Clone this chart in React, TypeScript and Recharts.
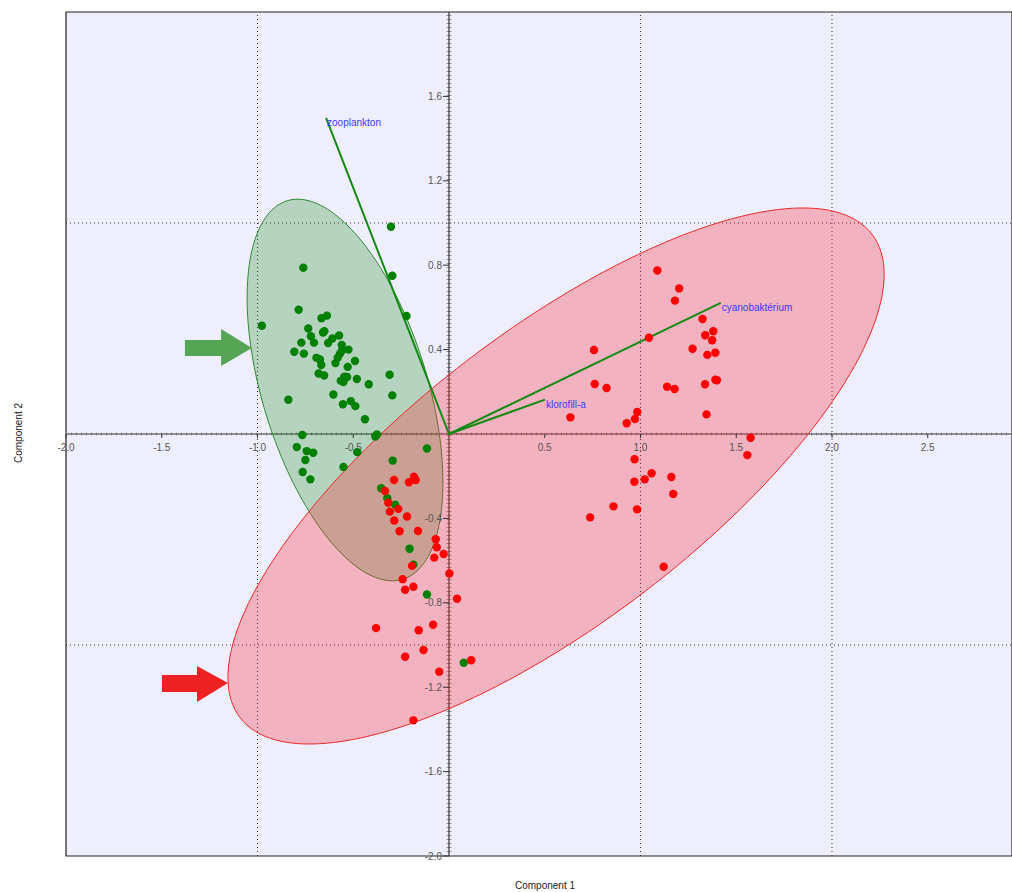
import React from 'react';
import { ScatterChart, Scatter, XAxis, YAxis, ReferenceArea, ReferenceLine, ReferenceDot } from 'recharts';

// ---- data ----
const greenX = [-0.303,-0.296,-0.761,-0.222,-0.977,-0.785,-0.666,-0.637,-0.735,-0.651,-0.658,-0.721,-0.574,-0.609,-0.771,-0.705,-0.631,-0.560,-0.525,-0.559,-0.808,-0.758,-0.569,-0.581,-0.692,-0.674,-0.491,-0.593,-0.667,-0.529,-0.681,-0.652,-0.547,-0.532,-0.565,-0.551,-0.481,-0.310,-0.419,-0.839,-0.604,-0.296,-0.554,-0.513,-0.489,-0.439,-0.376,-0.385,-0.766,-0.795,-0.743,-0.709,-0.750,-0.764,-0.724,-0.551,-0.479,-0.115,-0.294,-0.354,-0.322,-0.281,-0.206,-0.186,-0.115,0.077];
const greenY = [0.982,0.750,0.788,0.559,0.513,0.589,0.549,0.561,0.500,0.487,0.481,0.463,0.467,0.453,0.433,0.433,0.431,0.422,0.400,0.396,0.390,0.381,0.381,0.362,0.361,0.353,0.346,0.336,0.327,0.318,0.287,0.277,0.272,0.270,0.252,0.246,0.261,0.281,0.236,0.162,0.187,0.183,0.141,0.156,0.132,0.070,-0.002,-0.012,-0.005,-0.062,-0.081,-0.089,-0.123,-0.180,-0.215,-0.156,-0.086,-0.069,-0.126,-0.257,-0.304,-0.335,-0.544,-0.619,-0.761,-1.084];

const redX = [-0.287,-0.183,-0.209,-0.174,-0.334,-0.317,-0.309,-0.265,-0.286,-0.219,-0.258,-0.162,-0.069,-0.064,-0.028,-0.077,-0.193,0.002,-0.242,-0.229,-0.186,0.042,-0.381,-0.158,-0.083,-0.229,-0.133,0.116,-0.051,-0.186,
  1.088,1.202,1.180,1.324,1.380,1.338,1.374,1.044,1.272,1.349,1.391,0.757,0.761,0.823,1.139,1.178,1.337,1.391,1.399,1.345,0.634,0.983,0.971,0.928,1.575,1.558,0.969,0.968,1.022,1.058,1.161,1.171,0.859,0.982,0.737,1.121];
const redY = [-0.218,-0.202,-0.229,-0.218,-0.270,-0.326,-0.368,-0.355,-0.410,-0.391,-0.461,-0.460,-0.499,-0.537,-0.569,-0.586,-0.625,-0.661,-0.688,-0.738,-0.724,-0.781,-0.920,-0.930,-0.904,-1.056,-1.024,-1.072,-1.127,-1.357,
  0.775,0.690,0.632,0.545,0.487,0.468,0.444,0.456,0.404,0.375,0.385,0.398,0.237,0.218,0.224,0.213,0.236,0.257,0.255,0.093,0.079,0.104,0.071,0.051,-0.018,-0.100,-0.120,-0.226,-0.215,-0.186,-0.204,-0.284,-0.343,-0.357,-0.395,-0.629];

// loading vectors
const vectorNames = ['zooplankton', 'cyanobaktérium', 'klorofill-a'];
const vectorX = [-0.642, 1.419, 0.501];
const vectorY = [1.498, 0.621, 0.163];

// confidence ellipses: center, first and second semi-axis vectors (data units)
const greenEllipse = { cx: -0.543, cy: 0.2085, ax: [0.302, -0.897], bx: [-0.4125, -0.1145] };
const redEllipse = { cx: 0.559, cy: -0.199, ax: [1.650, 1.1455], bx: [0.462, -0.549] };

// annotation arrows (outline vertices, data units)
const greenArrowX = [-1.379, -1.190, -1.190, -1.029, -1.190, -1.190, -1.379];
const greenArrowY = [0.446, 0.446, 0.498, 0.408, 0.322, 0.370, 0.370];
const redArrowX = [-1.499, -1.316, -1.316, -1.154, -1.316, -1.316, -1.499];
const redArrowY = [-1.142, -1.142, -1.100, -1.180, -1.270, -1.223, -1.223];

const xTicks = [-2.0, -1.5, -1.0, -0.5, 0.5, 1.0, 1.5, 2.0, 2.5];
const yTicks = [1.6, 1.2, 0.8, 0.4, -0.4, -0.8, -1.2, -1.6, -2.0];
const xGrid = [-1, 1, 2];
const yGrid = [1, -1];

const FONT = 'Liberation Sans, Arial, Helvetica, sans-serif';

const zipPts = (xs: number[], ys: number[]) => xs.map((x, i) => ({ x, y: ys[i] }));

function ellipsePts(e: { cx: number; cy: number; ax: number[]; bx: number[] }) {
  const pts: { x: number; y: number }[] = [];
  const n = 180;
  for (let i = 0; i <= n; i++) {
    const t = (i / n) * Math.PI * 2;
    pts.push({
      x: e.cx + Math.cos(t) * e.ax[0] + Math.sin(t) * e.bx[0],
      y: e.cy + Math.cos(t) * e.ax[1] + Math.sin(t) * e.bx[1],
    });
  }
  return pts;
}

const greenPts = zipPts(greenX, greenY);
const redPts = zipPts(redX, redY);
const greenEll = ellipsePts(greenEllipse);
const redEll = ellipsePts(redEllipse);
const greenArrow = zipPts(greenArrowX, greenArrowY);
const redArrow = zipPts(redArrowX, redArrowY);
const vectorSegs = vectorX.map((vx, i) => [{ x: 0, y: 0 }, { x: vx, y: vectorY[i] }]);

const none = () => <g />;

const polyLine = (fill: string, stroke: string, sw: number) => (p: any) => {
  const pts = (p.points || []).map((q: any) => `${q.x},${q.y}`).join(' ');
  return <polygon points={pts} fill={fill} stroke={stroke} strokeWidth={sw} />;
};

const segLine = (stroke: string, sw: number) => (p: any) => {
  const pts = (p.points || []).map((q: any) => `${q.x},${q.y}`).join(' ');
  return <polyline points={pts} fill="none" stroke={stroke} strokeWidth={sw} />;
};

const fmt = (v: number) => v.toFixed(1);

export default function App() {
  return (
    <div style={{ position: 'absolute', left: 0, top: 0, width: 1012, height: 892, background: '#fff' }}>
      <ScatterChart width={1012} height={892} margin={{ top: 12, right: 0, bottom: 36, left: 66 }}>
        <XAxis type="number" dataKey="x" domain={[-2, 2.94]} allowDataOverflow hide />
        <YAxis type="number" dataKey="y" domain={[-2, 2]} allowDataOverflow hide />
        <ReferenceArea x1={-2} x2={2.94} y1={-2} y2={2} fill="#eeeefc" fillOpacity={1} stroke="#222" strokeWidth={1.2} />
        {xGrid.map((g) => (
          <ReferenceLine key={'xg' + g} x={g} stroke="#333" strokeDasharray="1 3" strokeWidth={1} />
        ))}
        {yGrid.map((g) => (
          <ReferenceLine key={'yg' + g} y={g} stroke="#333" strokeDasharray="1 3" strokeWidth={1} />
        ))}
        <ReferenceLine x={0} stroke="#999" strokeWidth={5} strokeDasharray="1 3" />
        <ReferenceLine x={0} stroke="#333" strokeWidth={1.2} />
        <ReferenceLine y={0} stroke="#aaa" strokeWidth={3} strokeDasharray="1 4" />
        <ReferenceLine y={0} stroke="#333" strokeWidth={1} />

        <Scatter data={greenEll} shape={none} line={polyLine('rgba(0,128,0,0.24)', '#2f8a2f', 1)} lineType="joint" isAnimationActive={false} />
        <Scatter data={redEll} shape={none} line={polyLine('rgba(255,40,50,0.30)', '#ee2a2a', 1)} lineType="joint" isAnimationActive={false} />
        <Scatter data={greenArrow} shape={none} line={polyLine('#55a555', 'none', 0)} lineType="joint" isAnimationActive={false} />
        <Scatter data={redArrow} shape={none} line={polyLine('#ee2222', 'none', 0)} lineType="joint" isAnimationActive={false} />

        {vectorSegs.map((seg, i) => (
          <Scatter key={'v' + i} data={seg} shape={none} line={segLine('#128a12', 2)} lineType="joint" isAnimationActive={false} />
        ))}

        {xTicks.map((t) => (
          <ReferenceDot
            key={'xt' + t}
            x={t}
            y={0}
            r={0}
            shape={(p: any) => (
              <g>
                <line x1={p.cx} y1={p.cy} x2={p.cx} y2={p.cy + 4} stroke="#333" strokeWidth={1} />
                <text x={p.cx} y={p.cy + 17} textAnchor="middle" fontSize={10} fontFamily={FONT} fill="#555">
                  {fmt(t)}
                </text>
              </g>
            )}
          />
        ))}
        {yTicks.map((t) => (
          <ReferenceDot
            key={'yt' + t}
            x={0}
            y={t}
            r={0}
            shape={(p: any) => (
              <g>
                <line x1={p.cx - 6} y1={p.cy} x2={p.cx} y2={p.cy} stroke="#333" strokeWidth={1} />
                <text x={p.cx - 7} y={p.cy + 3.5} textAnchor="end" fontSize={10} fontFamily={FONT} fill="#555">
                  {fmt(t)}
                </text>
              </g>
            )}
          />
        ))}

        <Scatter data={greenPts} fill="#008000" shape={(p: any) => <circle cx={p.cx} cy={p.cy} r={4.2} fill="#008000" />} isAnimationActive={false} />
        <Scatter data={redPts} fill="#ff0000" shape={(p: any) => <circle cx={p.cx} cy={p.cy} r={4.2} fill="#ff0000" />} isAnimationActive={false} />

        {vectorX.map((vx, i) => (
          <ReferenceDot
            key={'vl' + i}
            x={vx}
            y={vectorY[i]}
            r={0}
            shape={(p: any) => (
              <text x={p.cx + 1} y={p.cy + 8.5} fontSize={10} fontFamily={FONT} fill="#3a3aff">
                {vectorNames[i]}
              </text>
            )}
          />
        ))}
      </ScatterChart>
      <div style={{ position: 'absolute', left: 0, top: 880, width: 1090, textAlign: 'center', fontSize: 10, fontFamily: FONT, color: '#222' }}>
        Component 1
      </div>
      <div
        style={{
          position: 'absolute',
          left: 18,
          top: 433,
          transform: 'translate(-50%, -50%) rotate(-90deg)',
          whiteSpace: 'nowrap',
          fontSize: 10,
          fontFamily: FONT,
          color: '#222',
        }}
      >
        Component 2
      </div>
    </div>
  );
}
